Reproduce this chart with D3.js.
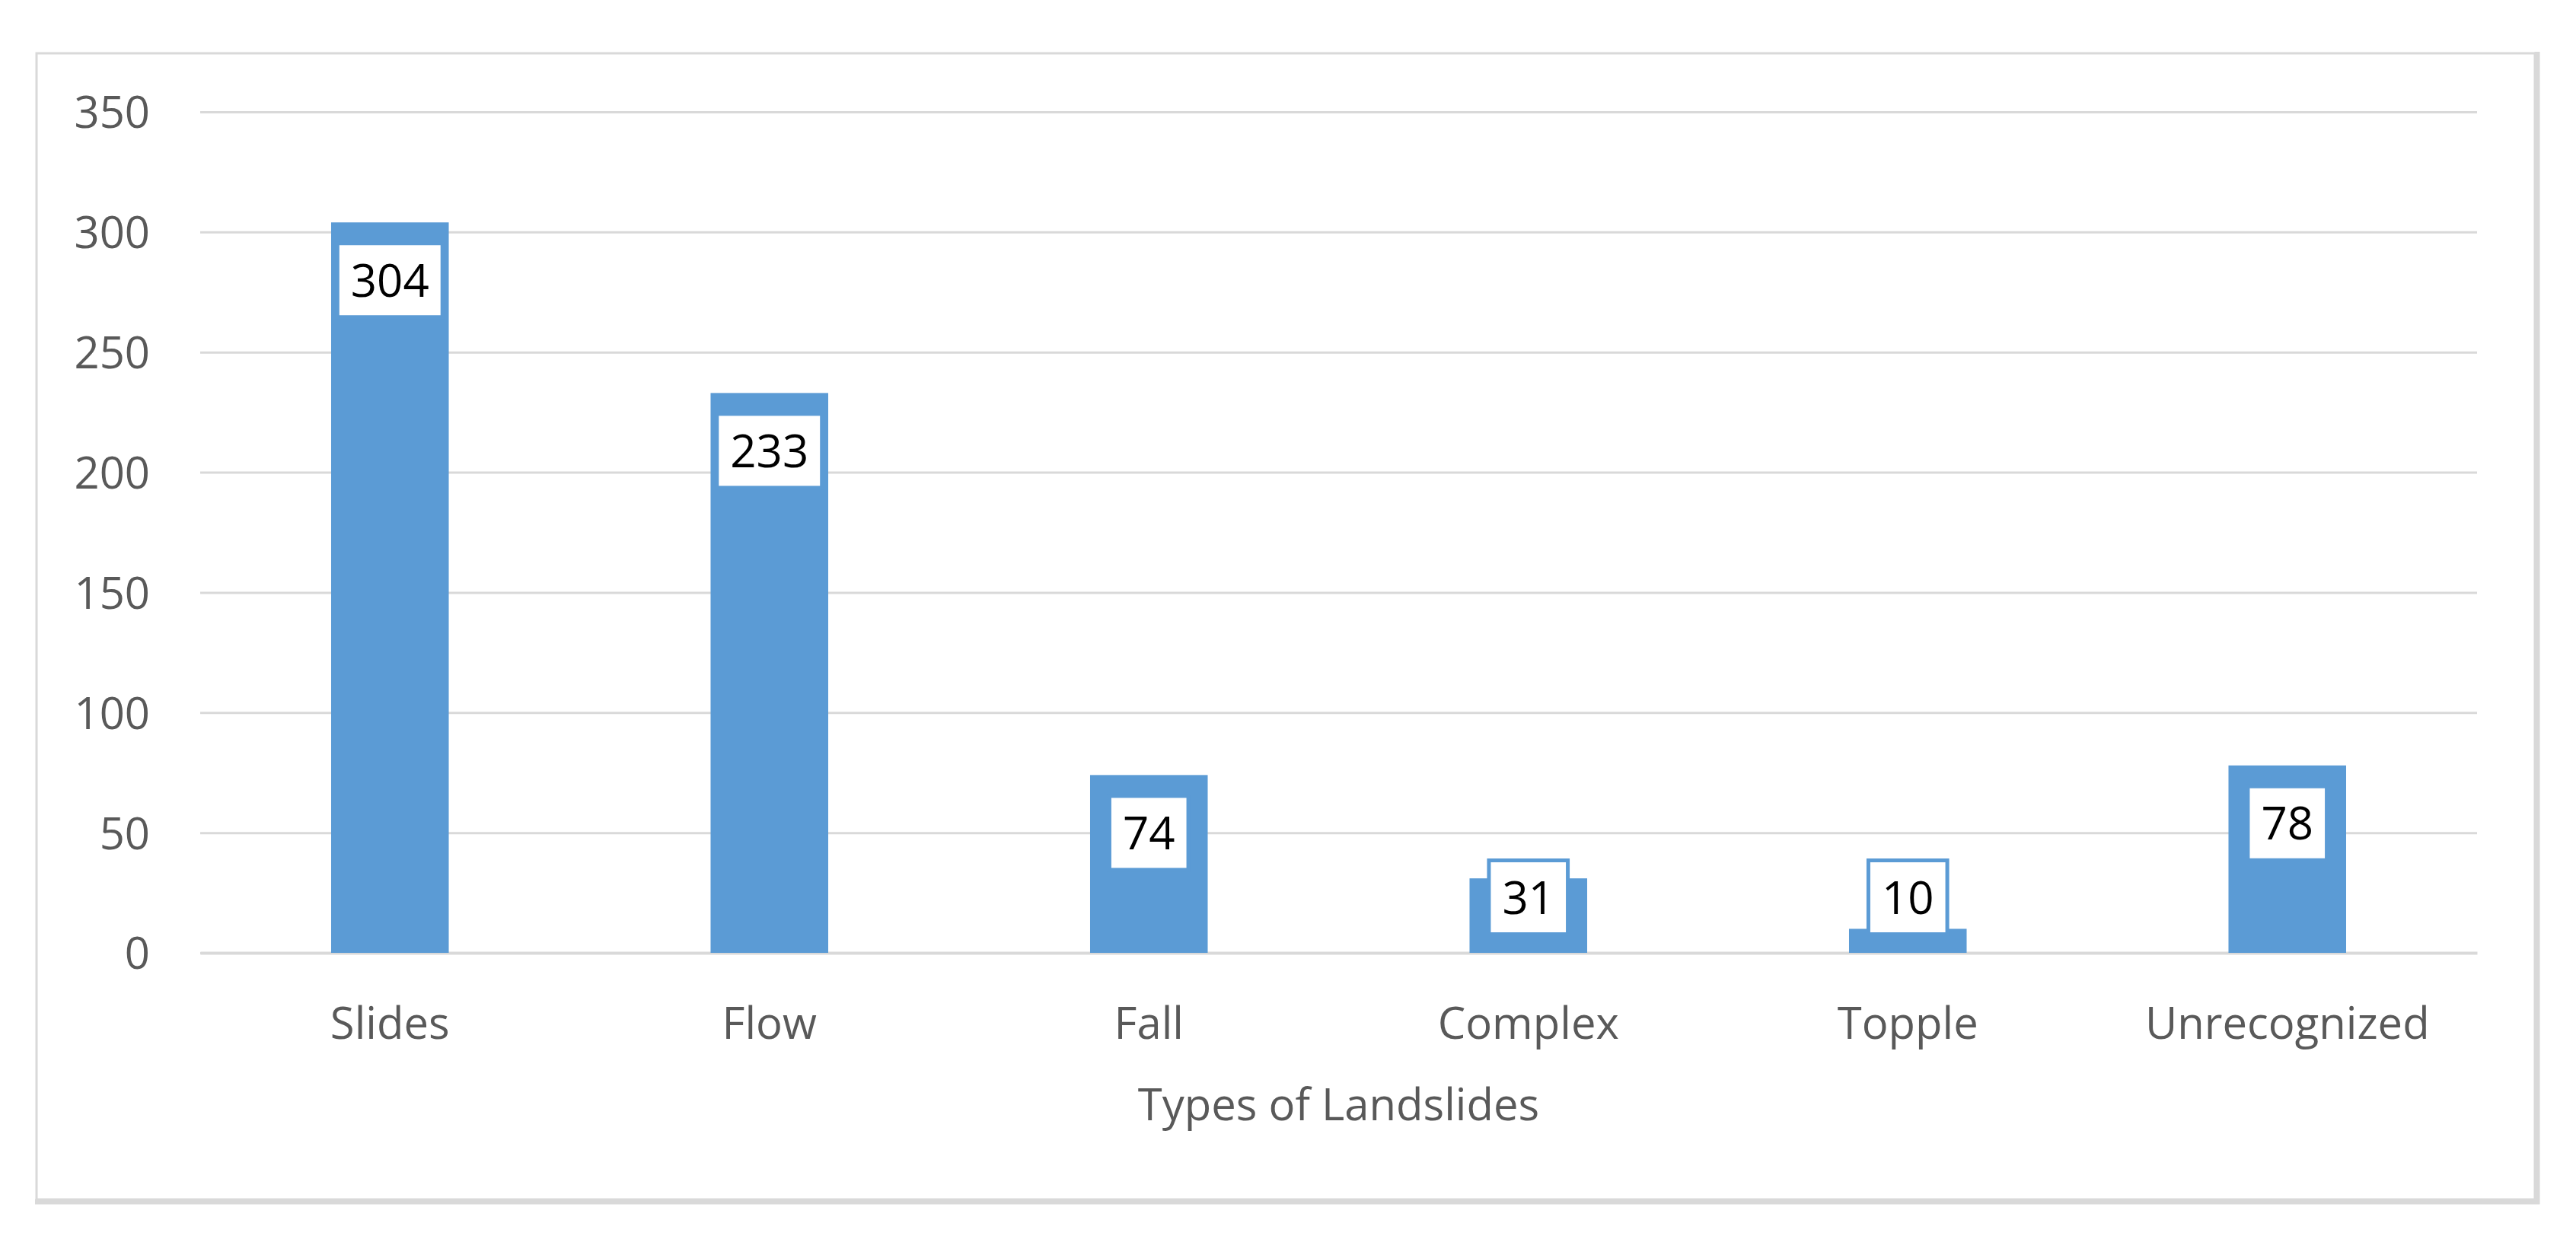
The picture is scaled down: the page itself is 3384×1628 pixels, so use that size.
<html>
<head>
<script src="https://d3js.org/d3.v7.min.js"></script>
<style>
  body { margin: 0; background: #fff; }
  text { font-family: "Open Sans", sans-serif; }
</style>
</head>
<body>
<script>
var categories = ["Slides", "Flow", "Fall", "Complex", "Topple", "Unrecognized"];
var counts = [304, 233, 74, 31, 10, 78];
var yTicks = [0, 50, 100, 150, 200, 250, 300, 350];
var xTitle = "Types of Landslides";

var W = 3384, H = 1628;
var margin = {top: 147, right: 130, bottom: 376, left: 263};
var width = W - margin.left - margin.right,
    height = H - margin.top - margin.bottom;

var svg = d3.select("body").append("svg")
    .attr("width", W)
    .attr("height", H);

// outer frame, thin top/left and heavier right/bottom edge
svg.append("rect")
    .attr("x", 48).attr("y", 70)
    .attr("width", 3282).attr("height", 1506)
    .attr("fill", "#fff")
    .attr("stroke", "#d9d9d9")
    .attr("stroke-width", 3);
svg.append("path")
    .attr("d", "M3333,68V1579H46")
    .attr("fill", "none")
    .attr("stroke", "#d9d9d9")
    .attr("stroke-width", 7);

var g = svg.append("g")
    .attr("transform", "translate(" + margin.left + "," + margin.top + ")");

var x = d3.scaleBand()
    .domain(categories)
    .range([0, width])
    .paddingInner(0.69)
    .paddingOuter(0.345);

var y = d3.scaleLinear()
    .domain([0, 350])
    .range([height, 0]);

// y axis with gridlines
g.append("g")
    .call(d3.axisLeft(y).tickValues(yTicks).tickSize(-width).tickPadding(66))
    .call(g => g.select(".domain").remove())
    .call(g => g.selectAll(".tick line")
        .attr("stroke", "#d9d9d9")
        .attr("stroke-width", 3))
    .call(g => g.selectAll(".tick text")
        .attr("fill", "#595959")
        .attr("font-size", 58)
        .attr("dy", "0.36em"));

// x axis
g.append("g")
    .attr("transform", "translate(0," + height + ")")
    .call(d3.axisBottom(x).tickSize(0).tickPadding(113))
    .call(g => g.select(".domain")
        .attr("stroke", "#d9d9d9")
        .attr("stroke-width", 4))
    .call(g => g.selectAll(".tick text")
        .attr("fill", "#595959")
        .attr("font-size", 58)
        .attr("dy", null));

g.append("text")
    .attr("x", width / 2)
    .attr("y", height + 220)
    .attr("text-anchor", "middle")
    .attr("fill", "#595959")
    .attr("font-size", 58)
    .text(xTitle);

var data = categories.map((c, i) => ({name: c, value: counts[i]}));

g.selectAll(".bar")
    .data(data).enter()
    .append("rect")
    .attr("class", "bar")
    .attr("x", d => x(d.name))
    .attr("width", x.bandwidth())
    .attr("y", d => y(d.value))
    .attr("height", d => y(0) - y(d.value))
    .attr("fill", "#5b9bd5");

// data labels in white boxes
var boxH = 102;
var lab = g.selectAll(".lab")
    .data(data).enter()
    .append("g")
    .attr("class", "lab");

lab.append("text")
    .attr("x", d => x(d.name) + x.bandwidth() / 2)
    .attr("y", d => Math.min(y(d.value) + 25, y(0) - 22 - boxH) + boxH / 2)
    .attr("dy", "0.36em")
    .attr("text-anchor", "middle")
    .attr("font-size", 60)
    .attr("fill", "#000")
    .text(d => d.value);

lab.each(function(d) {
    var t = d3.select(this).select("text");
    var bw = t.node().getBBox().width + 40;
    var top = Math.min(y(d.value) + 25, y(0) - 22 - boxH);
    d3.select(this).insert("rect", "text")
        .attr("x", x(d.name) + x.bandwidth() / 2 - bw / 2 + 2.5)
        .attr("y", top + 2.5)
        .attr("width", bw - 5)
        .attr("height", boxH - 5)
        .attr("fill", "#fff")
        .attr("stroke", "#5b9bd5")
        .attr("stroke-width", 5);
});
</script>
</body>
</html>
